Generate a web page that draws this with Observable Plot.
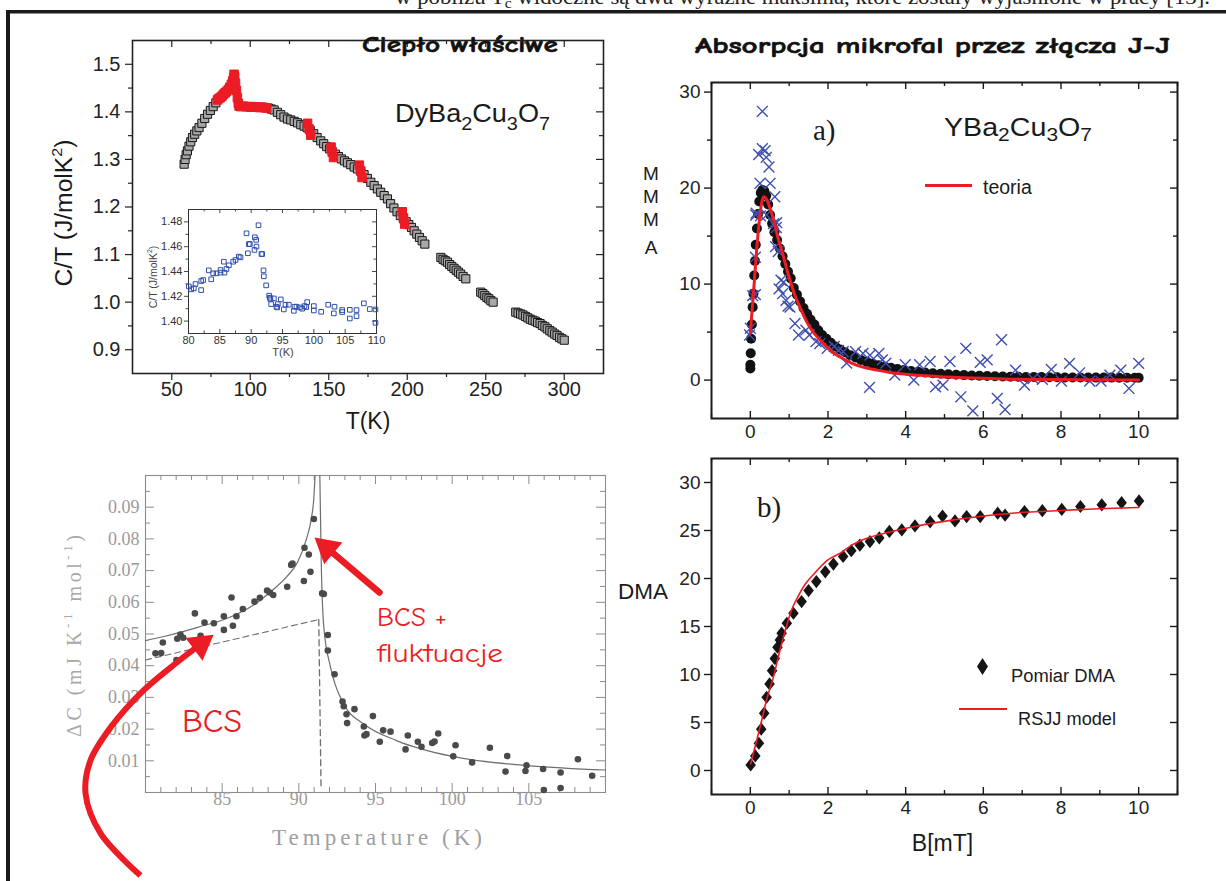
<!DOCTYPE html>
<html><head><meta charset="utf-8">
<script src="https://cdn.jsdelivr.net/npm/d3@7"></script>
<script src="https://cdn.jsdelivr.net/npm/@observablehq/plot@0.6"></script>
<style>
html,body{margin:0;padding:0;background:#fff;}
#page{position:relative;width:1226px;height:881px;overflow:hidden;background:#fff;}
#page svg{position:absolute;}
</style></head>
<body><div id="page"></div>
<script>
const RED = "#ec1c24";
// ================= Panel 1: DyBa2Cu3O7 specific heat =================
const p1XTicks = [50, 100, 150, 200, 250, 300];
const p1XMinor = [75, 125, 175, 225, 275];
const p1YTicks = [0.9, 1.0, 1.1, 1.2, 1.3, 1.4, 1.5];
const p1YMinor = [0.95, 1.05, 1.15, 1.25, 1.35, 1.45];
const mainT = [57.9,58.5,59.2,60.0,61.0,62.1,63.2,64.6,66.0,67.4,69.2,71.0,72.8,74.6,76.4,78.1,
 111.5,113.3,115.2,117.3,119.4,121.5,123.7,125.8,128.0,130.1,132.2,134.3,136.2,138.2,140.4,142.6,144.9,146.8,148.7,150.6,
 152.4,154.3,156.2,158.1,160.0,161.9,164.0,166.2,168.3,170.4,172.5,174.6,176.8,178.9,181.0,183.1,185.3,187.4,189.4,191.5,
 193.5,195.6,197.6,199.3,201.0,202.7,204.4,206.1,207.8,209.5,211.2,
 221.4,222.8,224.2,225.6,227.0,228.4,229.8,231.2,232.6,234.0,235.6,237.3,
 246.8,248.1,249.4,250.7,252.0,253.3,254.7,
 269.1,270.6,272.2,273.7,275.3,276.8,278.4,279.9,281.5,283.0,284.6,286.1,287.7,289.2,290.8,292.3,293.9,295.4,297.0,298.5,300.0];
const mainC = [1.290,1.300,1.310,1.318,1.328,1.337,1.346,1.353,1.360,1.367,1.376,1.386,1.395,1.403,1.411,1.419,
 1.408,1.406,1.404,1.399,1.394,1.389,1.385,1.383,1.380,1.377,1.373,1.370,1.367,1.361,1.354,1.346,1.339,1.333,1.327,1.322,
 1.316,1.311,1.306,1.301,1.297,1.293,1.289,1.284,1.280,1.275,1.268,1.260,1.252,1.245,1.238,1.231,1.224,1.217,1.207,1.198,
 1.190,1.182,1.175,1.169,1.163,1.157,1.150,1.143,1.136,1.129,1.122,
 1.094,1.090,1.087,1.084,1.079,1.075,1.071,1.067,1.063,1.059,1.054,1.049,
 1.021,1.018,1.014,1.010,1.007,1.003,1.000,
 0.979,0.977,0.975,0.973,0.970,0.967,0.964,0.962,0.960,0.957,0.955,0.951,0.948,0.944,0.940,0.937,0.933,0.930,0.926,0.923,0.920];
const redT = [79.1,80.0,81.0,82.0,83.0,84.0,85.0,86.0,87.0,88.0,88.8,89.4,89.7,90.1,90.6,91.2,91.8,92.4,92.9,94.0,
 95.5,97.0,98.5,100.0,101.5,103.0,104.5,106.0,107.5,109.0,110.5,
 136.5,137.5,138.5, 151.5,152.2,153.0, 169.5,170.3,171.2, 196.8,197.6,198.4];
const redC = [1.425,1.428,1.430,1.433,1.437,1.440,1.443,1.447,1.452,1.458,1.465,1.472,1.479,1.474,1.460,1.445,1.430,1.418,1.412,1.411,
 1.412,1.411,1.411,1.410,1.411,1.410,1.410,1.409,1.410,1.409,1.408,
 1.376,1.364,1.351, 1.326,1.315,1.304, 1.288,1.276,1.262, 1.190,1.177,1.164];
// inset
const inXTicks = [80, 85, 90, 95, 100, 105, 110];
const inXMinor = [82.5, 87.5, 92.5, 97.5, 102.5, 107.5];
const inYTicks = [1.40, 1.42, 1.44, 1.46, 1.48];
const inYMinor = [1.41, 1.43, 1.45, 1.47];
const insetT = [80.05,80.43,80.85,81.12,82.02,82.02,82.34,83.24,83.62,83.94,84.47,85.11,85.11,85.64,85.74,86.06,86.44,87.13,87.50,88.03,
 88.30,89.26,89.47,89.63,89.79,90.53,90.59,90.80,90.85,91.17,91.65,91.76,91.97,92.02,92.39,92.87,92.98,93.08,93.19,93.62,
 94.04,94.15,94.26,94.73,95.21,95.48,96.01,96.81,96.91,97.23,97.77,98.14,98.51,98.78,98.94,100.0,100.0,101.17,102.29,103.19,
 103.30,104.52,104.52,105.74,105.74,106.81,106.81,107.98,108.94,109.84,109.84];
const insetC = [1.428,1.4256,1.4264,1.4299,1.4250,1.4323,1.4331,1.4409,1.4337,1.4385,1.4385,1.4391,1.4412,1.4479,1.4391,1.4420,1.4450,1.4479,1.4493,1.4520,
 1.4514,1.4708,1.4547,1.4620,1.4622,1.4574,1.4676,1.4655,1.4601,1.4773,1.4541,1.4541,1.4409,1.4361,1.4288,1.4205,1.4188,1.4178,1.4137,1.4183,
 1.4116,1.4110,1.4137,1.4175,1.4094,1.4132,1.4132,1.4083,1.4116,1.4116,1.4110,1.4100,1.4121,1.4113,1.4153,1.4121,1.4086,1.4075,1.4132,1.4062,
 1.4116,1.4089,1.4073,1.4021,1.4091,1.4040,1.4089,1.4143,1.4097,1.4094,1.3986];

// ================= Panel 2: microwave absorption (a) =================
const p2XTicks = [0, 2, 4, 6, 8, 10];
const p2XMinor = [-1, 1, 3, 5, 7, 9, 11];
const p2YTicks = [0, 10, 20, 30];
const p2YMinor = [5, 15, 25];
const circB = [0.0,0.0,0.01,0.02,0.04,0.06,0.08,0.10,0.12,0.14,0.17,0.20,0.23,0.27,0.31,0.36,0.41,0.46,0.51,0.56,0.62,0.69,0.76,0.83,0.90,0.97,
 1.04,1.12,1.20,1.28,1.37,1.46,1.55,1.65,1.75,1.85,1.96,2.07,2.19,2.31,2.44,2.57,2.71,2.85,3.00,3.15,3.30,3.46,3.62,3.79,3.96,
 4.14,4.32,4.50,4.70,4.90,5.10,5.30,5.50,5.70,5.90,6.10,6.30,6.50,6.70,6.90,7.10,7.30,7.50,7.70,7.90,8.10,8.30,8.50,8.70,8.90,
 9.10,9.30,9.50,9.70,9.90,10.0];
const circV = [1.2,1.6,2.8,4.3,5.8,7.6,9.0,10.9,12.4,14.1,15.8,17.3,18.6,19.5,19.8,19.7,19.2,18.3,17.2,16.3,15.4,14.6,13.7,12.9,12.1,11.3,
 10.6,9.6,8.9,8.2,7.5,6.9,6.3,5.8,5.2,4.7,4.3,3.9,3.5,3.2,2.9,2.6,2.35,2.1,1.9,1.7,1.55,1.4,1.28,1.15,1.05,
 0.95,0.87,0.8,0.72,0.66,0.6,0.56,0.52,0.48,0.45,0.42,0.4,0.38,0.36,0.34,0.33,0.32,0.31,0.3,0.29,0.28,0.28,0.27,0.27,0.26,
 0.26,0.26,0.25,0.25,0.25,0.25];
const crossB = [0.31,0.215,0.31,0.38,0.41,0.48,0.25,0.51,0.63,0.14,0.68,0.15,0.26,0.42,0.60,0.67,0.13,0.06,0.13,0.0,
 -0.02,0.65,0.72,0.79,0.86,0.74,0.83,0.97,0.92,1.02,1.15,1.24,1.43,1.52,1.69,1.79,1.98,2.16,2.27,2.39,
 2.48,2.71,2.90,3.08,3.31,3.40,3.07,3.49,3.72,3.99,4.21,4.36,4.63,4.77,4.96,5.14,5.42,5.55,5.73,5.92,
 6.10,6.36,6.47,6.56,6.83,7.06,7.28,7.52,7.75,8.01,8.22,8.48,8.74,9.03,9.26,9.54,9.75,10.0];
const crossV = [28.0,23.5,24.1,23.9,23.2,22.2,20.5,20.5,19.1,17.2,16.4,17.4,17.1,17.2,16.3,15.9,12.8,8.8,8.9,5.4,
 4.7,13.9,13.4,10.4,10.2,9.5,9.0,7.7,8.3,7.6,5.9,4.7,5.2,4.7,4.0,3.8,3.3,3.5,3.1,2.95,
 1.77,2.95,2.78,2.6,2.78,2.1,-0.76,1.77,0.52,1.6,0.0,1.6,1.94,-0.7,-0.52,1.94,-1.74,3.3,-3.2,1.84,
 2.1,-1.9,4.2,-3.06,1.04,-0.52,0.17,0.07,1.11,-0.1,1.74,0.76,-0.1,-0.1,0.52,1.04,-0.87,1.74];
const theoryB = [0,0.05,0.10,0.15,0.20,0.26,0.31,0.36,0.42,0.50,0.60,0.70,0.83,0.97,1.16,1.30,1.43,1.60,1.79,2.00,2.16,2.40,2.62,2.90,
 3.26,3.60,3.99,4.50,4.90,5.50,6.00,6.74,7.50,8.50,10.0];
const theoryV = [4.9,7.5,10.1,12.9,15.3,17.6,18.8,19.1,18.8,18.0,16.7,15.0,13.2,11.1,8.7,7.4,6.25,5.1,4.2,3.35,2.8,2.2,1.75,1.35,
 1.04,0.8,0.62,0.46,0.35,0.25,0.18,0.1,0.07,0.04,0.02];

// ================= Panel 3: BCS + fluctuations (scanned plot) =================
const p3XTicks = [85, 90, 95, 100, 105];
const p3XMinor = [81,82,83,84,86,87,88,89,91,92,93,94,96,97,98,99,101,102,103,104,106,107,108,109];
const p3YTicks = [0.01,0.02,0.03,0.04,0.05,0.06,0.07,0.08,0.09];
const p3YMinor = [0.005,0.015,0.025,0.035,0.045,0.055,0.065,0.075,0.085,0.095];
const bcsT = [80.65,81.02,81.13,82.02,82.07,82.28,82.46,83.22,83.59,83.85,84.46,85.11,85.11,85.70,85.61,85.93,86.35,87.11,87.46,87.93,
 88.11,88.33,89.24,89.50,89.59,90.33,90.37,90.65,90.76,90.98,91.52,91.63,91.89,91.89,92.33,92.85,92.93,93.11,93.15,93.63,
 94.24,94.28,94.41,94.83,95.28,95.50,95.98,96.96,97.11,97.76,98.00,98.70,98.85,99.09,100.07,100.22,101.30,102.46,103.48,103.59,
 104.78,104.85,105.98,105.93,107.07,107.07,108.20,109.13];
const bcsC = [0.0439,0.0440,0.0473,0.0418,0.0485,0.0498,0.0488,0.0565,0.0494,0.0536,0.0534,0.0513,0.0556,0.0526,0.0615,0.0556,0.0579,0.0602,0.0614,0.0637,
 0.0631,0.0623,0.0649,0.0718,0.0722,0.0667,0.0772,0.0751,0.0696,0.0863,0.0628,0.0626,0.0497,0.0448,0.0373,0.0287,0.0272,0.0247,0.0219,0.0263,
 0.0208,0.0180,0.0184,0.0241,0.0160,0.0196,0.0192,0.0136,0.0180,0.0160,0.0144,0.0156,0.0161,0.0186,0.0114,0.0149,0.0095,0.0141,0.0066,0.0115,
 0.0068,0.0086,0.0008,0.0074,0.0063,0.0014,0.0105,0.0053];
const fitLeftT = [80.0,81.2,83.4,85.5,87.0,88.2,89.2,89.9,90.5,90.8,90.98,91.06];
const fitLeftC = [0.0479,0.0492,0.0521,0.0553,0.0590,0.0635,0.0680,0.0725,0.0800,0.0860,0.0930,0.1000];
const fitRightT = [91.37,91.46,91.63,92.07,92.93,94.24,96.41,100.1,105.1,110.0];
const fitRightC = [0.1000,0.0730,0.0521,0.0395,0.0279,0.0216,0.0163,0.0113,0.0084,0.0071];
const bcsLineT = [80.0, 91.25];
const bcsLineC = [0.0418, 0.0545];
const bcsDropT = [91.3, 91.45];
const bcsDropC = [0.0545, 0.0010];
// annotation arrows (in the panel's own T / ΔC units)
const arrow1T = [95.26, 91.84];
const arrow1C = [0.0631, 0.0771];
const arrow2T = [79.67, 77.07, 76.09, 76.41, 77.72, 79.87, 81.96, 83.59];
const arrow2C = [-0.0262, -0.0129, -0.0003, 0.0101, 0.0205, 0.0322, 0.0407, 0.0467];
const headT = [91.84, 83.59];
const headC = [0.0771, 0.0467];
const headAngle = [-50, 53];

// ================= Panel 4: DMA (b) =================
const p4XTicks = [0, 2, 4, 6, 8, 10];
const p4XMinor = [-1, 1, 3, 5, 7, 9, 11];
const p4YTicks = [0, 5, 10, 15, 20, 25, 30];
const dmaB = [0.009,0.128,0.22,0.28,0.357,0.42,0.495,0.56,0.63,0.70,0.76,0.806,0.94,1.11,1.32,1.50,1.70,1.93,2.14,2.39,
 2.60,2.82,3.08,3.32,3.58,3.90,4.24,4.63,4.95,5.27,5.57,5.92,6.37,6.56,7.06,7.52,8.02,8.50,9.05,9.56,10.01];
const dmaV = [0.58,1.52,2.84,4.3,5.97,7.63,9.02,10.4,11.66,12.84,13.6,14.3,15.34,16.38,17.6,18.74,19.68,20.7,21.5,22.3,
 22.9,23.47,23.85,24.23,24.9,25.06,25.48,25.9,26.5,26.0,26.45,26.45,26.8,26.6,26.97,27.07,27.2,27.5,27.67,27.9,28.08];
const rsjjB = [0.01,0.13,0.28,0.42,0.60,0.70,0.88,1.06,1.20,1.43,1.62,1.98,2.34,2.62,3.0,3.54,4.2,4.91,5.8,6.74,7.6,8.56,10.0];
const rsjjV = [0.7,2.6,5.0,7.4,9.8,11.5,14.3,16.7,17.9,19.5,20.4,21.9,22.7,23.5,24.2,24.8,25.4,25.9,26.4,26.8,27.0,27.2,27.4];

// ---------------- helpers ----------------
const zip = (xs, ys) => xs.map((x, i) => ({x, y: ys[i]}));
function tk(vals, dim, side, len, out, size, st) {
  if (dim === "x") {
    const ins = side === "bottom" ? (out ? [size, -len] : [size - len, 0]) : (out ? [-len, size] : [0, size - len]);
    return Plot.tickX(vals, {x: d => d, insetTop: ins[0], insetBottom: ins[1], ...st});
  } else {
    const ins = side === "left" ? (out ? [-len, size] : [0, size - len]) : (out ? [size, -len] : [size - len, 0]);
    return Plot.tickY(vals, {y: d => d, insetLeft: ins[0], insetRight: ins[1], ...st});
  }
}
const page = document.getElementById("page");
function place(svg, left, top) { svg.style.left = left + "px"; svg.style.top = top + "px"; page.appendChild(svg); }
const SANS = "'Liberation Sans', Arial, sans-serif";

// ---------------- Panel 1 ----------------
{
  const W = 615, H = 455, m = {l: 132, r: 12, t: 40, b: 82};
  const ph = H - m.t - m.b, pw = W - m.l - m.r;
  const st = {stroke: "#222", strokeWidth: 1.2};
  const svg = Plot.plot({
    width: W, height: H, marginLeft: m.l, marginRight: m.r, marginTop: m.t, marginBottom: m.b,
    x: {domain: [25, 325], axis: null}, y: {domain: [0.85, 1.55], axis: null},
    style: {background: "transparent", overflow: "visible", fontFamily: SANS, color: "#222"},
    marks: [
      tk(p1XTicks, "x", "bottom", 7, true, ph, st), tk(p1XMinor, "x", "bottom", 4, true, ph, st),
      tk(p1XTicks, "x", "top", 7, false, ph, st), tk(p1XMinor, "x", "top", 4, false, ph, st),
      tk(p1YTicks, "y", "left", 7, true, pw, st), tk(p1YMinor, "y", "left", 4, true, pw, st),
      tk(p1YTicks, "y", "right", 7, false, pw, st), tk(p1YMinor, "y", "right", 4, false, pw, st),
      Plot.frame({stroke: "#222", strokeWidth: 1.6}),
      Plot.text(p1XTicks, {x: d => d, frameAnchor: "bottom", dy: 22, text: d => String(d), fontSize: 20, fill: "#222"}),
      Plot.text(p1YTicks, {y: d => d, frameAnchor: "left", dx: -12, textAnchor: "end", text: d => d.toFixed(1), fontSize: 20, fill: "#222"}),
      Plot.dot(zip(mainT, mainC), {x: "x", y: "y", symbol: "square", r: 4.6, fill: "#a8a8a8", stroke: "#161616", strokeWidth: 1}),
      Plot.dot(zip(redT, redC), {x: "x", y: "y", symbol: "square", r: 4.8, fill: RED, stroke: RED, strokeWidth: 1})
    ]
  });
  place(svg, 0, 0);
}
// inset
{
  const W = 270, H = 175, m = {l: 58, r: 24, t: 19, b: 32};
  const ph = H - m.t - m.b, pw = W - m.l - m.r;
  const st = {stroke: "#333", strokeWidth: 0.9};
  const svg = Plot.plot({
    width: W, height: H, marginLeft: m.l, marginRight: m.r, marginTop: m.t, marginBottom: m.b,
    x: {domain: [80, 110], axis: null}, y: {domain: [1.39, 1.49], axis: null},
    style: {background: "transparent", overflow: "visible", fontFamily: SANS, color: "#333"},
    marks: [
      tk(inXTicks, "x", "bottom", 4, false, ph, st), tk(inXMinor, "x", "bottom", 2.5, false, ph, st),
      tk(inXTicks, "x", "top", 4, false, ph, st), tk(inXMinor, "x", "top", 2.5, false, ph, st),
      tk(inYTicks, "y", "left", 4, true, pw, st), tk(inYMinor, "y", "left", 2.5, true, pw, st),
      tk(inYTicks, "y", "right", 4, false, pw, st), tk(inYMinor, "y", "right", 2.5, false, pw, st),
      Plot.frame({stroke: "#333", strokeWidth: 1}),
      Plot.text(inXTicks, {x: d => d, frameAnchor: "bottom", dy: 10, text: d => String(d), fontSize: 11, fill: "#333"}),
      Plot.text(inYTicks, {y: d => d, frameAnchor: "left", dx: -6, textAnchor: "end", text: d => d.toFixed(2), fontSize: 11, fill: "#333"}),
      Plot.dot(zip(insetT, insetC), {x: "x", y: "y", symbol: "square", r: 2.6, fill: "none", stroke: "#2f4fae", strokeWidth: 1})
    ]
  });
  place(svg, 130, 190);
}
// ---------------- Panel 2 ----------------
{
  const W = 606, H = 395, m = {l: 91, r: 49, t: 22, b: 37};
  const ph = H - m.t - m.b, pw = W - m.l - m.r;
  const st = {stroke: "#1a1a1a", strokeWidth: 1.4};
  const svg = Plot.plot({
    width: W, height: H, marginLeft: m.l, marginRight: m.r, marginTop: m.t, marginBottom: m.b,
    x: {domain: [-1, 11], axis: null}, y: {domain: [-4, 31], axis: null},
    style: {background: "transparent", overflow: "visible", fontFamily: SANS, color: "#222"},
    marks: [
      tk(p2XTicks, "x", "bottom", 7, false, ph, st), tk(p2XMinor, "x", "bottom", 4, false, ph, st),
      tk(p2XTicks, "x", "top", 7, false, ph, st), tk(p2XMinor, "x", "top", 4, false, ph, st),
      tk(p2YTicks, "y", "left", 7, true, pw, st), tk(p2YMinor, "y", "left", 4, true, pw, st),
      tk(p2YTicks, "y", "right", 7, false, pw, st), tk(p2YMinor, "y", "right", 4, false, pw, st),
      Plot.frame({stroke: "#1a1a1a", strokeWidth: 2}),
      Plot.text(p2XTicks, {x: d => d, frameAnchor: "bottom", dy: 19, text: d => String(d), fontSize: 19, fill: "#222"}),
      Plot.text(p2YTicks, {y: d => d, frameAnchor: "left", dx: -11, textAnchor: "end", text: d => String(d), fontSize: 19, fill: "#222"}),
      Plot.dot(zip(circB, circV), {x: "x", y: "y", r: 5, fill: "#111"}),
      Plot.dot(zip(crossB, crossV), {x: "x", y: "y", symbol: "times", r: 5, stroke: "#3f4fb0", strokeWidth: 1.4}),
      Plot.line(zip(theoryB, theoryV), {x: "x", y: "y", stroke: RED, strokeWidth: 3, curve: "monotone-x"})
    ]
  });
  place(svg, 620, 60);
}
// ---------------- Panel 3 ----------------
{
  const W = 620, H = 421, m = {l: 145, r: 15, t: 15, b: 89};
  const ph = H - m.t - m.b, pw = W - m.l - m.r;
  const st = {stroke: "#8c8c8c", strokeWidth: 1};
  const svg = Plot.plot({
    width: W, height: H, marginLeft: m.l, marginRight: m.r, marginTop: m.t, marginBottom: m.b,
    x: {domain: [80, 110], axis: null}, y: {domain: [0, 0.1], axis: null},
    style: {background: "transparent", overflow: "visible", fontFamily: "'Liberation Serif', serif", color: "#999"},
    marks: [
      tk(p3XTicks, "x", "bottom", 9, false, ph, st), tk(p3XMinor, "x", "bottom", 5, false, ph, st),
      tk(p3XTicks, "x", "top", 9, false, ph, st), tk(p3XMinor, "x", "top", 5, false, ph, st),
      tk(p3YTicks, "y", "left", 9, false, pw, st), tk(p3YMinor, "y", "left", 5, false, pw, st),
      tk(p3YTicks, "y", "right", 9, false, pw, st), tk(p3YMinor, "y", "right", 5, false, pw, st),
      Plot.frame({stroke: "#8c8c8c", strokeWidth: 1.1}),
      Plot.text(p3XTicks, {x: d => d, frameAnchor: "bottom", dy: 12, text: d => String(d), fontSize: 18, fill: "#9a9a9a"}),
      Plot.text(p3YTicks, {y: d => d, frameAnchor: "left", dx: -6, textAnchor: "end", text: d => d.toFixed(2), fontSize: 18, fill: "#9a9a9a"}),
      Plot.line(zip(fitLeftT, fitLeftC), {x: "x", y: "y", stroke: "#6e6e6e", strokeWidth: 1.2, curve: "monotone-x"}),
      Plot.line(zip(fitRightT, fitRightC), {x: "x", y: "y", stroke: "#6e6e6e", strokeWidth: 1.2, curve: "monotone-x"}),
      Plot.line(zip(bcsLineT, bcsLineC), {x: "x", y: "y", stroke: "#6e6e6e", strokeWidth: 1.1, strokeDasharray: "6,4"}),
      Plot.line(zip(bcsDropT, bcsDropC), {x: "x", y: "y", stroke: "#6e6e6e", strokeWidth: 1.3, strokeDasharray: "6,4"}),
      Plot.dot(zip(bcsT, bcsC), {x: "x", y: "y", r: 3.3, fill: "#4a4a4a"}),
      Plot.line(zip(arrow1T, arrow1C), {x: "x", y: "y", stroke: RED, strokeWidth: 6.5}),
      Plot.line(zip(arrow2T, arrow2C), {x: "x", y: "y", stroke: RED, strokeWidth: 6, curve: "catmull-rom", strokeLinecap: "butt"}),
      Plot.dot(headT.map((t, i) => ({x: t, y: headC[i], a: headAngle[i]})), {x: "x", y: "y", symbol: "triangle", r: 10.5, rotate: "a", fill: RED})
    ]
  });
  place(svg, 0, 460);
}
// ---------------- Panel 4 ----------------
{
  const W = 606, H = 420, m = {l: 91, r: 49, t: 8, b: 76};
  const ph = H - m.t - m.b, pw = W - m.l - m.r;
  const st = {stroke: "#1a1a1a", strokeWidth: 1.4};
  const diamond = {draw(ctx, size) { const h = Math.sqrt(size / Math.PI) * 1.65, w = h * 0.8;
    ctx.moveTo(0, -h); ctx.lineTo(w, 0); ctx.lineTo(0, h); ctx.lineTo(-w, 0); ctx.closePath(); }};
  const svg = Plot.plot({
    width: W, height: H, marginLeft: m.l, marginRight: m.r, marginTop: m.t, marginBottom: m.b,
    x: {domain: [-1, 11], axis: null}, y: {domain: [-2.5, 32.5], axis: null},
    style: {background: "transparent", overflow: "visible", fontFamily: SANS, color: "#222"},
    marks: [
      tk(p4XTicks, "x", "bottom", 7, false, ph, st), tk(p4XMinor, "x", "bottom", 4, false, ph, st),
      tk(p4XTicks, "x", "top", 7, false, ph, st), tk(p4XMinor, "x", "top", 4, false, ph, st),
      tk(p4YTicks, "y", "left", 7, true, pw, st),
      tk(p4YTicks, "y", "right", 7, false, pw, st),
      Plot.frame({stroke: "#1a1a1a", strokeWidth: 2}),
      Plot.text(p4XTicks, {x: d => d, frameAnchor: "bottom", dy: 19, text: d => String(d), fontSize: 19, fill: "#222"}),
      Plot.text(p4YTicks, {y: d => d, frameAnchor: "left", dx: -11, textAnchor: "end", text: d => String(d), fontSize: 19, fill: "#222"}),
      Plot.dot(zip(dmaB, dmaV), {x: "x", y: "y", symbol: diamond, r: 4, fill: "#151515"}),
      Plot.line(zip(rsjjB, rsjjV), {x: "x", y: "y", stroke: RED, strokeWidth: 1.6, curve: "monotone-x"})
    ]
  });
  place(svg, 620, 450);
}

// ---------------- overlay: border, titles, labels, legends ----------------
const COMIC = "'Comic Sans MS','Comic Neue','DejaVu Sans',sans-serif";
const SERIF = "'Liberation Serif','Times New Roman',serif";
page.insertAdjacentHTML("beforeend", `
<svg width="1226" height="881" style="left:0;top:0;pointer-events:none" font-family="${SANS}" fill="#1a1a1a">
  <rect x="6" y="10" width="1220" height="3.5" fill="#1a1a1a"/>
  <rect x="6" y="10" width="4" height="871" fill="#1a1a1a"/>
  <text x="395" y="3.5" font-family="${SERIF}" font-size="22" fill="#222" textLength="815" lengthAdjust="spacingAndGlyphs">w pobliżu T<tspan font-size="15" dy="4">c</tspan><tspan dy="-4"> widoczne są dwa wyraźne maksima, które zostały wyjaśnione w pracy [13].</tspan></text>

  <text x="362" y="44" dominant-baseline="central" font-family="${COMIC}" font-weight="bold" font-size="23" fill="#111" stroke="#111" stroke-width="0.6" textLength="196" lengthAdjust="spacingAndGlyphs">Ciepło właściwe</text>
  <text x="395" y="121.5" font-size="26" textLength="155" lengthAdjust="spacingAndGlyphs">DyBa<tspan font-size="19" dy="8">2</tspan><tspan dy="-8">Cu</tspan><tspan font-size="19" dy="8">3</tspan><tspan dy="-8">O</tspan><tspan font-size="19" dy="8">7</tspan></text>
  <text transform="translate(64,213) rotate(-90)" text-anchor="middle" dominant-baseline="central" font-size="23" textLength="147" lengthAdjust="spacingAndGlyphs">C/T (J/molK<tspan font-size="15" dy="-8">2</tspan><tspan dy="8">)</tspan></text>
  <text x="368" y="421" text-anchor="middle" dominant-baseline="central" font-size="23">T(K)</text>
  <text transform="translate(153,277) rotate(-90)" text-anchor="middle" dominant-baseline="central" font-size="10.5" fill="#444">C/T (J/molK<tspan font-size="7" dy="-4">2</tspan><tspan dy="4">)</tspan></text>
  <text x="283" y="352" text-anchor="middle" dominant-baseline="central" font-size="11" fill="#444">T(K)</text>

  <text x="695" y="45" dominant-baseline="central" font-family="${COMIC}" font-weight="bold" font-size="23" fill="#111" stroke="#111" stroke-width="0.6" textLength="475" lengthAdjust="spacingAndGlyphs">Absorpcja mikrofal przez złącza J-J</text>
  <text x="813" y="140" font-family="${SERIF}" font-size="29">a)</text>
  <text x="944" y="136" font-size="26" textLength="148" lengthAdjust="spacingAndGlyphs">YBa<tspan font-size="19" dy="5">2</tspan><tspan dy="-5">Cu</tspan><tspan font-size="19" dy="5">3</tspan><tspan dy="-5">O</tspan><tspan font-size="19" dy="5">7</tspan></text>
  <rect x="925" y="184" width="47" height="3" fill="${RED}"/>
  <text x="983" y="187" dominant-baseline="central" font-size="19.5">teoria</text>
  <g font-size="19" text-anchor="middle" dominant-baseline="central">
    <text x="651" y="173">M</text><text x="651" y="196">M</text><text x="651" y="219">M</text><text x="651" y="247">A</text>
  </g>

  <text transform="translate(74,636) rotate(-90)" text-anchor="middle" dominant-baseline="central" font-family="${SERIF}" font-size="20" fill="#a8a8a8" textLength="202" lengthAdjust="spacing">ΔC (mJ K<tspan font-size="13" dy="-7">-1</tspan><tspan dy="7"> mol</tspan><tspan font-size="13" dy="-7">-1</tspan><tspan dy="7">)</tspan></text>
  <text x="377" y="837" text-anchor="middle" dominant-baseline="central" font-family="${SERIF}" font-size="23" fill="#a0a0a0" textLength="210" lengthAdjust="spacing">Temperature (K)</text>
  <g font-family="${COMIC}" fill="${RED}" dominant-baseline="central">
    <text x="377" y="617" font-size="25.5" textLength="70" lengthAdjust="spacingAndGlyphs">BCS +</text>
    <text x="377" y="653" font-size="25.5" textLength="126" lengthAdjust="spacingAndGlyphs">fluktuacje</text>
    <text x="182" y="722" font-size="31.5" textLength="60" lengthAdjust="spacingAndGlyphs">BCS</text>
  </g>

  <text x="757" y="517" font-family="${SERIF}" font-size="29">b)</text>
  <text x="643" y="592" text-anchor="middle" dominant-baseline="central" font-size="21.5" textLength="50" lengthAdjust="spacingAndGlyphs">DMA</text>
  <polygon points="982.5,658 988,666.5 982.5,675 977,666.5" fill="#151515"/>
  <text x="1011" y="676" dominant-baseline="central" font-size="18" textLength="104" lengthAdjust="spacingAndGlyphs">Pomiar DMA</text>
  <rect x="959" y="708" width="48" height="2" fill="${RED}"/>
  <text x="1018" y="719" dominant-baseline="central" font-size="18" textLength="98" lengthAdjust="spacingAndGlyphs">RSJJ model</text>
  <text x="942.5" y="843" text-anchor="middle" dominant-baseline="central" font-size="23">B[mT]</text>
</svg>`);
</script>
</body></html>
